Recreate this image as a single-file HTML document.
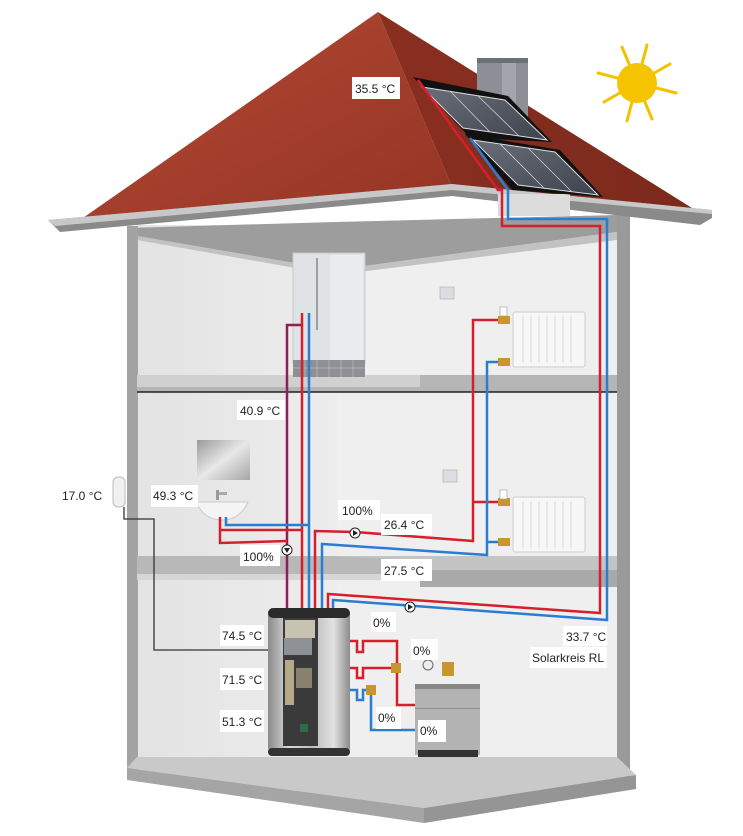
<!DOCTYPE html>
<html><head><meta charset="utf-8"><style>
html,body{margin:0;padding:0;background:#fff;}
svg{display:block;}
text{font-family:"Liberation Sans",Arial,sans-serif;font-size:12px;fill:#222;}
</style></head><body>
<svg width="743" height="836" viewBox="0 0 743 836" xmlns="http://www.w3.org/2000/svg">
<defs>
<linearGradient id="roofL" x1="0" y1="0" x2="1" y2="1"><stop offset="0" stop-color="#b44a35"/><stop offset="1" stop-color="#953424"/></linearGradient>
<linearGradient id="roofR" x1="0" y1="0" x2="1" y2="0"><stop offset="0" stop-color="#8a2f20"/><stop offset="1" stop-color="#7a2a1c"/></linearGradient>
<linearGradient id="wallL" x1="0" y1="0" x2="1" y2="0"><stop offset="0" stop-color="#e3e3e3"/><stop offset="1" stop-color="#ededed"/></linearGradient>
<linearGradient id="tank" x1="0" y1="0" x2="1" y2="0"><stop offset="0" stop-color="#8a8a8a"/><stop offset="0.25" stop-color="#d8d8d8"/><stop offset="0.55" stop-color="#bdbdbd"/><stop offset="0.8" stop-color="#e2e2e2"/><stop offset="1" stop-color="#8c8c8c"/></linearGradient>
<linearGradient id="mirror" x1="0" y1="0" x2="1" y2="1"><stop offset="0" stop-color="#9a9a9a"/><stop offset="0.5" stop-color="#e8e8e8"/><stop offset="1" stop-color="#a5a5a5"/></linearGradient>
<linearGradient id="panel" x1="0" y1="0" x2="1" y2="1"><stop offset="0" stop-color="#6a6f7a"/><stop offset="1" stop-color="#3e434e"/></linearGradient>
</defs>

<!-- interior background -->
<rect x="137" y="225" width="480" height="540" fill="#ececec"/>
<rect x="137" y="225" width="200" height="540" fill="url(#wallL)"/>
<rect x="337" y="225" width="280" height="540" fill="#efefef"/>
<!-- soffit -->
<polygon points="127,228 335,222 617,215 617,232 335,270 137,236" fill="#9d9d9d"/>
<polygon points="137,236 335,270 617,232 617,240 335,275 137,240" fill="#c2c2c2"/>
<!-- walls -->
<rect x="127" y="226" width="11" height="548" fill="#a3a3a3"/>
<rect x="617" y="212" width="13" height="575" fill="#9a9a9a"/>

<!-- upper slab -->
<rect x="137" y="375" width="480" height="17" fill="#b5b5b5"/>
<rect x="137" y="375" width="283" height="12" fill="#d0d0d0"/>
<line x1="137" y1="392" x2="617" y2="392" stroke="#222" stroke-width="1.5"/>
<!-- middle slab -->
<rect x="137" y="556" width="480" height="18" fill="#c4c4c4"/>
<polygon points="137,556 330,556 420,560 420,574 137,574" fill="#b8b8b8"/>
<rect x="420" y="570" width="197" height="17" fill="#a9a9a9"/>
<rect x="137" y="574" width="283" height="6" fill="#d6d6d6"/>

<!-- ground floor -->
<polygon points="137,757 617,757 636,775 424,808 127,768" fill="#c9c9c9"/>
<polygon points="127,768 424,808 424,823 127,780" fill="#a5a5a5"/>
<polygon points="424,808 636,775 636,789 424,823" fill="#959595"/>

<!-- roof -->
<polygon points="378,12 80,220 452,187" fill="url(#roofL)"/>
<polygon points="378,12 452,187 700,213" fill="url(#roofR)"/>
<!-- chimney -->
<rect x="477" y="58" width="51" height="60" fill="#8d8f96"/>
<rect x="477" y="58" width="51" height="5" fill="#6e7078"/>
<rect x="502" y="63" width="14" height="55" fill="#a3a5ac"/>
<polygon points="477,95 528,118 528,130 477,110" fill="#8a2f20"/>
<!-- gutter -->
<polygon points="48,220 452,184 712,210 712,218 700,225 452,196 60,232" fill="#8a8a8a"/>
<polygon points="48,220 452,184 712,210 712,214 452,190 55,226" fill="#c8c8c8"/>
<rect x="498" y="194" width="72" height="22" fill="#dcdcdc"/>

<!-- solar panels -->
<polygon points="413,77 508,96 552,142 470,138" fill="#111"/>
<polygon points="422,87 505,100 547,140 463,128" fill="url(#panel)" stroke="#ddd" stroke-width="1"/>
<line x1="450" y1="91" x2="490" y2="132" stroke="#ccc" stroke-width="0.8"/>
<line x1="478" y1="96" x2="519" y2="136" stroke="#ccc" stroke-width="0.8"/>
<polygon points="465,134 560,150 603,197 512,190" fill="#111"/>
<polygon points="473,140 555,152 598,195 518,185" fill="url(#panel)" stroke="#ddd" stroke-width="1"/>
<line x1="500" y1="144" x2="545" y2="189" stroke="#ccc" stroke-width="0.8"/>
<line x1="528" y1="148" x2="572" y2="192" stroke="#ccc" stroke-width="0.8"/>

<!-- sun -->
<g stroke="#f2c200" stroke-width="3" stroke-linecap="round">
<line x1="637" y1="83" x2="598" y2="73"/><line x1="637" y1="83" x2="676" y2="93"/>
<line x1="637" y1="83" x2="622" y2="47"/><line x1="637" y1="83" x2="652" y2="119"/>
<line x1="637" y1="83" x2="647" y2="45"/><line x1="637" y1="83" x2="627" y2="121"/>
<line x1="637" y1="83" x2="670" y2="64"/><line x1="637" y1="83" x2="604" y2="102"/>
</g>
<circle cx="637" cy="83" r="20" fill="#f5c400"/>

<!-- shower -->
<rect x="293" y="253" width="72" height="110" fill="#dfe3e6" stroke="#c8c8c8"/>
<rect x="330" y="255" width="33" height="106" fill="#e9ecee"/>
<line x1="317" y1="258" x2="317" y2="330" stroke="#888" stroke-width="1.5"/>
<rect x="293" y="360" width="72" height="17" fill="#8e9095"/>
<g stroke="#bbb" stroke-width="0.7"><line x1="305" y1="360" x2="305" y2="377"/><line x1="317" y1="360" x2="317" y2="377"/><line x1="329" y1="360" x2="329" y2="377"/><line x1="341" y1="360" x2="341" y2="377"/><line x1="353" y1="360" x2="353" y2="377"/><line x1="293" y1="368" x2="365" y2="368"/></g>

<!-- thermostats -->
<rect x="440" y="287" width="14" height="12" fill="#dcdde3" stroke="#aaa" stroke-width="0.6"/>
<rect x="443" y="470" width="14" height="12" fill="#dcdde3" stroke="#aaa" stroke-width="0.6"/>

<!-- radiators -->
<rect x="513" y="312" width="72" height="55" rx="2" fill="#f7f7f7" stroke="#ccc"/>
<rect x="513" y="497" width="72" height="55" rx="2" fill="#f7f7f7" stroke="#ccc"/>
<g stroke="#d0d0d0" stroke-width="0.8">
<line x1="523" y1="316" x2="523" y2="363"/><line x1="531" y1="316" x2="531" y2="363"/><line x1="539" y1="316" x2="539" y2="363"/><line x1="547" y1="316" x2="547" y2="363"/><line x1="555" y1="316" x2="555" y2="363"/><line x1="563" y1="316" x2="563" y2="363"/><line x1="571" y1="316" x2="571" y2="363"/>
<line x1="523" y1="501" x2="523" y2="548"/><line x1="531" y1="501" x2="531" y2="548"/><line x1="539" y1="501" x2="539" y2="548"/><line x1="547" y1="501" x2="547" y2="548"/><line x1="555" y1="501" x2="555" y2="548"/><line x1="563" y1="501" x2="563" y2="548"/><line x1="571" y1="501" x2="571" y2="548"/>
</g>

<!-- mirror & sink -->
<rect x="197" y="440" width="53" height="40" fill="url(#mirror)"/>
<rect x="216" y="490" width="3" height="10" fill="#999"/><rect x="219" y="492" width="8" height="3" fill="#aaa"/>
<path d="M196,502 L248,502 Q240,520 222,520 Q204,520 196,502 Z" fill="#f4f4f4" stroke="#ccc"/>
<!-- outside sensor -->
<rect x="113" y="477" width="12" height="30" rx="5" fill="#f0f0f0" stroke="#bbb"/>

<!-- pipes -->
<g fill="none" stroke-width="2.5" stroke-linejoin="miter">
<!-- solar -->
<polyline points="418,80 498,190 502,190 502,226 600,226 600,613 328,594 328,610" stroke="#d4202c"/>
<polyline points="470,138 508,190 508,219 607,219 607,620 333,600 333,610" stroke="#2b7dd0"/>
<!-- heating -->
<polyline points="315,610 315,531 355,532 473,541 473,320 505,320" stroke="#d4202c"/>
<polyline points="473,502 505,502" stroke="#d4202c"/>
<polyline points="322,610 322,544 487,555 487,362 505,362" stroke="#2b7dd0"/>
<polyline points="487,542 505,542" stroke="#2b7dd0"/>
<!-- hot water -->
<polyline points="287,610 287,325 302,325" stroke="#8b2252"/>
<polyline points="302,610 302,313" stroke="#d4202c"/>
<polyline points="309,610 309,313" stroke="#2b7dd0"/>
<polyline points="220,517 220,543 287,541" stroke="#d4202c"/>
<polyline points="220,530 302,530" stroke="#d4202c"/>
<polyline points="226,517 226,525 309,525" stroke="#2b7dd0"/>
<!-- boiler -->
<polyline points="350,641 357,641 357,652 363,652 363,641 397,641 397,705 415,705" stroke="#d4202c"/>
<polyline points="350,668 357,668 357,678 363,678 363,668 396,668" stroke="#d4202c"/>
<polyline points="350,690 357,690 357,700 363,700 363,690 371,690 371,730 415,730" stroke="#2b7dd0"/>
</g>
<!-- sensor line -->
<polyline points="124,507 124,519 154,519 154,650 290,650" fill="none" stroke="#333" stroke-width="1.3"/>
<!-- valves -->
<g fill="#c9962d"><rect x="498" y="316" width="12" height="8"/><rect x="498" y="358" width="12" height="8"/><rect x="498" y="498" width="12" height="8"/><rect x="498" y="538" width="12" height="8"/>
<rect x="391" y="663" width="10" height="10"/><rect x="366" y="685" width="10" height="10"/><rect x="442" y="662" width="12" height="14"/></g>
<rect x="500" y="307" width="7" height="9" fill="#fff" stroke="#999" stroke-width="0.6"/>
<rect x="500" y="490" width="7" height="9" fill="#fff" stroke="#999" stroke-width="0.6"/>
<circle cx="428" cy="665" r="5" fill="#eee" stroke="#666"/>
<!-- pumps -->
<g fill="#fff" stroke="#222" stroke-width="1"><circle cx="355" cy="533" r="5"/><circle cx="287" cy="550" r="5"/><circle cx="410" cy="607" r="5"/></g>
<g fill="#222"><polygon points="353,530 353,536 358,533"/><polygon points="284,548 290,548 287,553"/><polygon points="408,604 408,610 413,607"/></g>

<!-- tank -->
<rect x="268" y="608" width="82" height="147" rx="8" fill="url(#tank)"/>
<rect x="268" y="608" width="82" height="10" rx="5" fill="#2a2a2a"/>
<rect x="268" y="748" width="82" height="8" rx="4" fill="#333"/>
<rect x="283" y="618" width="35" height="128" fill="#3a3a3a"/>
<rect x="285" y="620" width="30" height="18" fill="#c8c2b0"/>
<rect x="284" y="638" width="28" height="17" fill="#8e9196"/>
<rect x="285" y="660" width="9" height="45" fill="#b8a88a"/>
<rect x="296" y="668" width="16" height="20" fill="#8a8270"/>
<rect x="300" y="724" width="8" height="8" fill="#2f6b4a"/>
<!-- boiler -->
<rect x="415" y="684" width="65" height="71" fill="#b3b3b3"/>
<rect x="415" y="684" width="65" height="5" fill="#888"/>
<rect x="415" y="708" width="65" height="1" fill="#8d8d8d"/>
<rect x="418" y="750" width="60" height="7" fill="#333"/>

<!-- labels -->
<g fill="#fff">
<rect x="352" y="77" width="48" height="22"/>
<rect x="237" y="400" width="48" height="20"/>
<rect x="151" y="485" width="47" height="22"/>
<rect x="338" y="500" width="42" height="20"/>
<rect x="381" y="514" width="51" height="21"/>
<rect x="240" y="545" width="40" height="21"/>
<rect x="381" y="559" width="51" height="22"/>
<rect x="371" y="612" width="25" height="20"/>
<rect x="220" y="625" width="44" height="21"/>
<rect x="411" y="639" width="27" height="21"/>
<rect x="563" y="626" width="44" height="20"/>
<rect x="530" y="647" width="77" height="21"/>
<rect x="220" y="668" width="44" height="22"/>
<rect x="376" y="707" width="25" height="22"/>
<rect x="220" y="710" width="44" height="22"/>
<rect x="418" y="720" width="28" height="22"/>
</g>
<text x="355" y="93">35.5 °C</text>
<text x="240" y="415">40.9 °C</text>
<text x="62" y="500">17.0 °C</text>
<text x="153" y="500">49.3 °C</text>
<text x="342" y="515">100%</text>
<text x="384" y="529">26.4 °C</text>
<text x="243" y="561">100%</text>
<text x="384" y="575">27.5 °C</text>
<text x="373" y="627">0%</text>
<text x="222" y="640">74.5 °C</text>
<text x="413" y="655">0%</text>
<text x="566" y="641">33.7 °C</text>
<text x="532" y="662">Solarkreis RL</text>
<text x="222" y="684">71.5 °C</text>
<text x="378" y="722">0%</text>
<text x="222" y="726">51.3 °C</text>
<text x="420" y="735">0%</text>
</svg>
</body></html>
